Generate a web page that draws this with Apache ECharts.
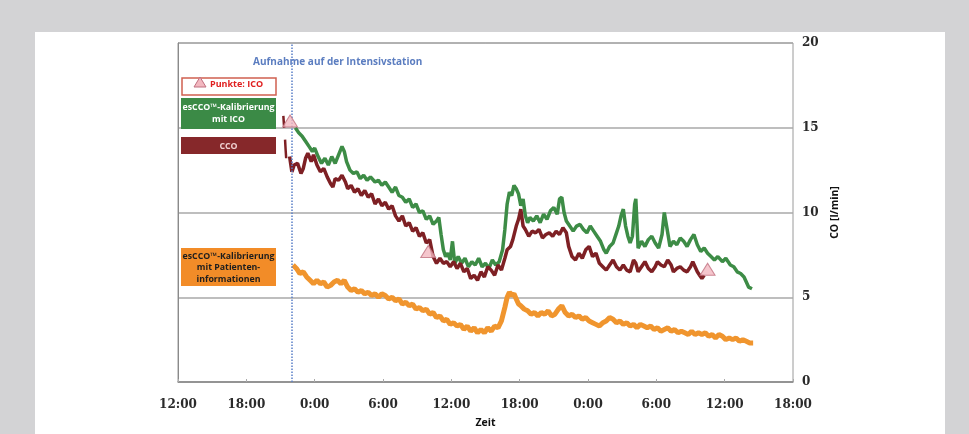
<!DOCTYPE html>
<html>
<head>
<meta charset="utf-8">
<script src="https://cdn.jsdelivr.net/npm/echarts@6/dist/echarts.min.js"></script>
<style>
html,body{margin:0;padding:0;background:#d3d3d5;}
#c{width:969px;height:434px;}
</style>
</head>
<body>
<div id="c"></div>
<script>
// Time in hours from day-0 12:00; values in l/min
const xTickLabels = ['12:00','18:00','0:00','6:00','12:00','18:00','0:00','6:00','12:00','18:00'];
const yTicks = [0,5,10,15,20];
const admissionTime = 10; // 22:00

const icoPoints = [[9.84,15.4],[21.97,7.7],[46.5,6.65]];

const ccoPreICU = [[9.25,15.7],[9.3,15.2],[9.33,15.0],['-','-'],[9.4,14.3],[9.45,13.7],[9.5,13.2]];

const escoIco = [
[10.3,15.0],[10.6,14.7],[10.9,14.5],[11.2,14.2],[11.5,13.9],[11.8,13.6],[12.0,13.8],[12.3,13.3],[12.6,12.9],[12.9,13.2],
[13.2,12.8],[13.5,13.3],[13.8,12.9],[14.1,13.4],[14.4,13.9],[14.6,13.6],[14.8,13.0],[15.1,12.5],[15.4,12.3],[15.7,12.4],
[16.0,12.0],[16.3,12.2],[16.6,11.9],[16.9,12.1],[17.3,11.8],[17.6,11.9],[17.9,11.6],[18.2,11.8],[18.5,11.5],[18.8,11.2],
[19.1,11.5],[19.4,11.0],[19.7,10.9],[20.0,10.6],[20.3,10.8],[20.6,10.3],[20.9,10.5],[21.2,10.0],[21.5,10.1],[21.8,9.6],
[22.1,9.8],[22.4,9.3],[22.7,9.5],[22.9,9.7],[23.1,8.7],[23.3,7.8],[23.5,7.4],[23.7,7.6],[23.9,7.2],[24.1,8.3],
[24.3,7.0],[24.6,7.4],[24.9,7.0],[25.2,7.3],[25.5,6.8],[25.8,7.1],[26.1,6.9],[26.4,7.3],[26.7,6.8],[27.0,7.0],
[27.3,6.7],[27.6,7.2],[27.9,6.9],[28.2,7.1],[28.5,7.8],[28.7,9.0],[28.9,10.5],[29.1,11.2],[29.3,11.0],[29.5,11.6],
[29.7,11.4],[29.9,11.1],[30.1,10.4],[30.3,10.8],[30.5,9.8],[30.7,9.4],[30.9,9.7],[31.2,9.5],[31.5,9.8],[31.8,9.4],
[32.1,9.9],[32.4,9.6],[32.7,10.1],[33.0,10.3],[33.3,9.9],[33.5,10.8],[33.7,10.9],[33.9,10.0],[34.1,9.5],[34.4,9.2],
[34.7,8.9],[35.0,9.2],[35.3,9.3],[35.6,9.0],[35.9,8.8],[36.2,9.2],[36.5,8.9],[36.8,8.6],[37.1,8.3],[37.4,7.8],
[37.6,7.6],[37.9,8.0],[38.2,8.2],[38.5,8.8],[38.7,9.2],[38.9,9.8],[39.1,10.2],[39.3,9.2],[39.5,8.6],[39.7,8.2],
[39.9,8.6],[40.1,10.5],[40.2,10.8],[40.4,7.9],[40.7,8.3],[41.0,8.0],[41.3,8.4],[41.6,8.6],[41.9,8.2],[42.2,7.9],
[42.5,8.7],[42.7,10.0],[42.9,9.2],[43.2,8.0],[43.5,8.3],[43.8,8.1],[44.1,8.5],[44.4,8.3],[44.7,8.0],[45.0,8.4],
[45.3,8.7],[45.6,8.1],[45.9,7.7],[46.2,7.9],[46.5,7.6],[46.8,7.4],[47.1,7.2],[47.4,7.4],[47.8,7.1],[48.1,7.3],
[48.5,6.9],[48.8,6.8],[49.1,6.5],[49.4,6.4],[49.7,6.2],[49.9,5.9],[50.1,5.6],[50.4,5.5]
];

const cco = [
[9.8,13.3],[10.0,12.4],[10.2,12.8],[10.5,12.9],[10.8,12.3],[11.0,12.6],[11.2,13.2],[11.4,13.5],[11.7,13.0],[11.9,13.4],
[12.2,12.8],[12.5,12.4],[12.8,12.6],[13.1,12.1],[13.4,11.7],[13.6,11.5],[13.8,12.0],[14.1,11.9],[14.4,12.2],[14.7,11.8],
[14.9,11.4],[15.2,11.6],[15.5,11.2],[15.8,11.4],[16.1,11.0],[16.4,11.3],[16.7,10.9],[17.0,11.1],[17.3,10.5],[17.6,10.8],
[17.9,10.4],[18.2,10.6],[18.5,10.2],[18.8,10.4],[19.1,9.8],[19.4,9.5],[19.7,9.8],[20.0,9.2],[20.3,9.4],[20.6,8.9],
[20.9,9.1],[21.2,8.6],[21.5,8.8],[21.8,8.2],[22.1,8.4],[22.4,7.4],[22.7,7.0],[23.0,7.3],[23.3,7.0],[23.6,7.1],
[23.9,6.8],[24.2,7.1],[24.5,6.7],[24.8,7.0],[25.1,6.5],[25.4,6.7],[25.7,6.1],[26.0,6.3],[26.3,6.0],[26.6,6.5],
[26.9,6.2],[27.2,6.8],[27.5,6.6],[27.8,6.3],[28.1,6.9],[28.4,6.6],[28.7,7.3],[28.9,7.8],[29.2,8.0],[29.4,8.4],
[29.7,9.2],[29.9,9.6],[30.1,10.2],[30.3,9.2],[30.5,9.0],[30.8,8.6],[31.1,8.9],[31.4,8.8],[31.7,9.0],[32.0,8.5],
[32.3,8.7],[32.6,8.8],[32.9,8.6],[33.2,8.9],[33.5,8.7],[33.8,9.1],[34.1,8.8],[34.3,8.0],[34.6,7.4],[34.9,7.2],
[35.2,7.6],[35.5,7.3],[35.8,7.8],[36.1,8.0],[36.4,7.4],[36.7,7.6],[37.0,7.0],[37.3,6.8],[37.6,6.6],[37.9,6.9],
[38.2,7.2],[38.5,6.8],[38.8,6.6],[39.1,6.9],[39.4,6.6],[39.7,6.5],[40.0,7.2],[40.2,7.0],[40.4,6.5],[40.7,6.8],
[41.0,7.1],[41.3,6.7],[41.6,6.5],[41.9,6.8],[42.1,7.1],[42.4,6.9],[42.7,6.8],[43.0,7.2],[43.3,6.9],[43.5,6.5],
[43.8,6.7],[44.1,6.8],[44.4,6.6],[44.7,6.5],[45.0,6.8],[45.2,7.1],[45.4,6.8],[45.6,6.5],[45.8,6.3],[46.0,6.1],[46.2,6.3]
];

const escoPatient = [
[10.1,6.9],[10.4,6.7],[10.7,6.4],[11.0,6.5],[11.3,6.2],[11.6,6.0],[11.9,5.8],[12.2,6.0],[12.5,5.8],[12.8,5.9],
[13.1,5.6],[13.4,5.7],[13.7,5.9],[14.0,6.0],[14.3,5.8],[14.6,6.0],[14.9,5.6],[15.2,5.4],[15.5,5.5],[15.8,5.3],
[16.1,5.4],[16.4,5.2],[16.7,5.3],[17.0,5.1],[17.3,5.2],[17.6,5.0],[17.9,5.2],[18.2,5.1],[18.5,4.9],[18.8,5.0],
[19.1,4.8],[19.4,4.9],[19.7,4.6],[20.0,4.7],[20.3,4.5],[20.6,4.6],[20.9,4.3],[21.2,4.4],[21.5,4.2],[21.8,4.3],
[22.1,4.0],[22.4,4.1],[22.7,3.8],[23.0,3.9],[23.3,3.6],[23.6,3.7],[23.9,3.4],[24.2,3.5],[24.5,3.3],[24.8,3.4],
[25.1,3.1],[25.4,3.3],[25.7,3.0],[26.0,3.2],[26.3,2.9],[26.6,3.1],[26.9,2.9],[27.2,3.2],[27.5,3.0],[27.8,3.3],
[28.1,3.2],[28.4,3.6],[28.7,4.4],[28.9,5.0],[29.1,5.3],[29.3,5.1],[29.5,5.2],[29.7,4.9],[29.9,4.6],[30.1,4.5],
[30.4,4.3],[30.7,4.2],[31.0,4.0],[31.3,4.1],[31.6,3.9],[31.9,4.1],[32.2,4.0],[32.5,4.2],[32.8,3.9],[33.1,4.0],
[33.4,4.3],[33.7,4.5],[34.0,4.1],[34.3,3.9],[34.6,4.0],[34.9,3.8],[35.2,3.9],[35.5,3.7],[35.8,3.8],[36.1,3.6],
[36.4,3.5],[36.7,3.4],[37.0,3.3],[37.3,3.5],[37.6,3.6],[37.9,3.8],[38.2,3.7],[38.5,3.5],[38.8,3.6],[39.1,3.4],
[39.4,3.5],[39.7,3.3],[40.0,3.4],[40.3,3.2],[40.6,3.4],[40.9,3.3],[41.2,3.2],[41.5,3.3],[41.8,3.1],[42.1,3.2],
[42.4,3.0],[42.7,3.1],[43.0,3.2],[43.3,3.0],[43.6,3.1],[43.9,2.9],[44.2,3.0],[44.5,2.9],[44.8,2.8],[45.1,3.0],
[45.4,2.8],[45.7,2.9],[46.0,2.8],[46.3,2.9],[46.6,2.7],[46.9,2.8],[47.2,2.6],[47.5,2.8],[47.8,2.7],[48.1,2.5],
[48.4,2.6],[48.7,2.5],[49.0,2.6],[49.3,2.4],[49.6,2.5],[49.9,2.4],[50.2,2.3],[50.5,2.3]
];

const legendTexts = {
  ico: 'Punkte: ICO',
  green: 'esCCO\u2122-Kalibrierung\nmit ICO',
  cco: 'CCO',
  orange: 'esCCO\u2122-Kalibrierung\nmit Patienten-\ninformationen',
  admission: 'Aufnahme auf der Intensivstation',
  xName: 'Zeit',
  yName: 'CO [l/min]'
};

const chart = echarts.init(document.getElementById('c'), null, {renderer:'canvas'});
const tickFont = {fontFamily:'DejaVu Serif', fontWeight:'bold', fontSize:12, color:'#2a2a2a'};

chart.setOption({
  backgroundColor:'#d3d3d5',
  animation:false,
  grid:{left:178, right:176, top:43, bottom:50, show:true, borderColor:'#9a9a9a', borderWidth:1, backgroundColor:'#fff'},
  xAxis:{
    type:'value', min:0, max:54, interval:6,
    name:legendTexts.xName, nameLocation:'middle', nameGap:36,
    nameTextStyle:{fontFamily:'Open Sans', fontWeight:'bold', fontSize:10.5, color:'#111'},
    axisLine:{show:true, lineStyle:{color:'#8a8a8a', width:1.5}},
    axisTick:{show:true, length:3, inside:true, lineStyle:{color:'#aaa'}},
    axisLabel:Object.assign({margin:17, formatter:v=>xTickLabels[Math.round(v/6)]}, tickFont),
    splitLine:{show:false}
  },
  yAxis:{
    type:'value', position:'right', min:0, max:20, interval:5,
    name:legendTexts.yName, nameLocation:'middle', nameGap:22, nameRotate:90,
    nameTextStyle:{fontFamily:'Open Sans', fontWeight:'bold', fontSize:10.5, color:'#111'},
    axisLine:{show:true, lineStyle:{color:'#8a8a8a', width:1}},
    axisTick:{show:false},
    axisLabel:Object.assign({margin:9, formatter:v=>yTicks.includes(v)?String(v):''}, tickFont),
    splitLine:{show:true, lineStyle:{color:'#a8a8a8', width:1.5}}
  },
  graphic:[
    {type:'rect', z:-10, shape:{x:35,y:32,width:910,height:402}, style:{fill:'#ffffff'}},
    {type:'text', left:253, top:57, style:{text:legendTexts.admission, fill:'#5b7dc0', font:'bold 10px "Open Sans"'}},
    {type:'rect', z:50, shape:{x:182,y:78,width:94,height:17}, style:{fill:'#fff', stroke:'#d06050', lineWidth:1.5}},
    {type:'polygon', z:51, shape:{points:[[200,77],[194,87],[206,87]]}, style:{fill:'#f2b8c0', stroke:'#c07080', lineWidth:1}},
    {type:'text', z:52, left:210, top:80, style:{text:legendTexts.ico, fill:'#e02020', font:'bold 9px "Open Sans"'}},
    {type:'rect', z:50, shape:{x:181,y:98,width:95,height:31}, style:{fill:'#3b8a46'}},
    {type:'text', z:52, x:228.5, y:113.5, style:{text:legendTexts.green, fill:'#fff', font:'bold 8.8px "Open Sans"', align:'center', verticalAlign:'middle', lineHeight:11.5}},
    {type:'rect', z:50, shape:{x:181,y:137,width:95,height:17}, style:{fill:'#86282a'}},
    {type:'text', z:52, x:228.5, y:146, style:{text:legendTexts.cco, fill:'#f0d0d0', font:'bold 8.8px "Open Sans"', align:'center', verticalAlign:'middle'}},
    {type:'rect', z:50, shape:{x:181,y:248,width:95,height:38}, style:{fill:'#f28c28'}},
    {type:'text', z:52, x:228.5, y:267.5, style:{text:legendTexts.orange, fill:'#1e1e1e', font:'bold 8.8px "Open Sans"', align:'center', verticalAlign:'middle', lineHeight:11.5}}
  ],
  series:[
    {type:'line', data:escoPatient, showSymbol:false, lineStyle:{color:'#f0952e', width:5}, z:2},
    {type:'line', data:escoIco, showSymbol:false, lineStyle:{color:'#3d8c46', width:3.5}, z:3},
    {type:'line', data:cco, showSymbol:false, lineStyle:{color:'#7e2024', width:3.5}, z:4},
    {type:'line', data:ccoPreICU, showSymbol:false, connectNulls:false, lineStyle:{color:'#7e2024', width:2.5}, z:4},
    {type:'scatter', data:icoPoints, symbol:'triangle', symbolSize:[15,12],
      itemStyle:{color:'#f2b8c0', borderColor:'#c07080', borderWidth:1}, z:6,
      markLine:{silent:true, symbol:'none', label:{show:false},
        lineStyle:{color:'#5a7fc8', type:'dotted', width:1.5},
        data:[{xAxis:admissionTime}]}}
  ]
});
</script>
</body>
</html>
